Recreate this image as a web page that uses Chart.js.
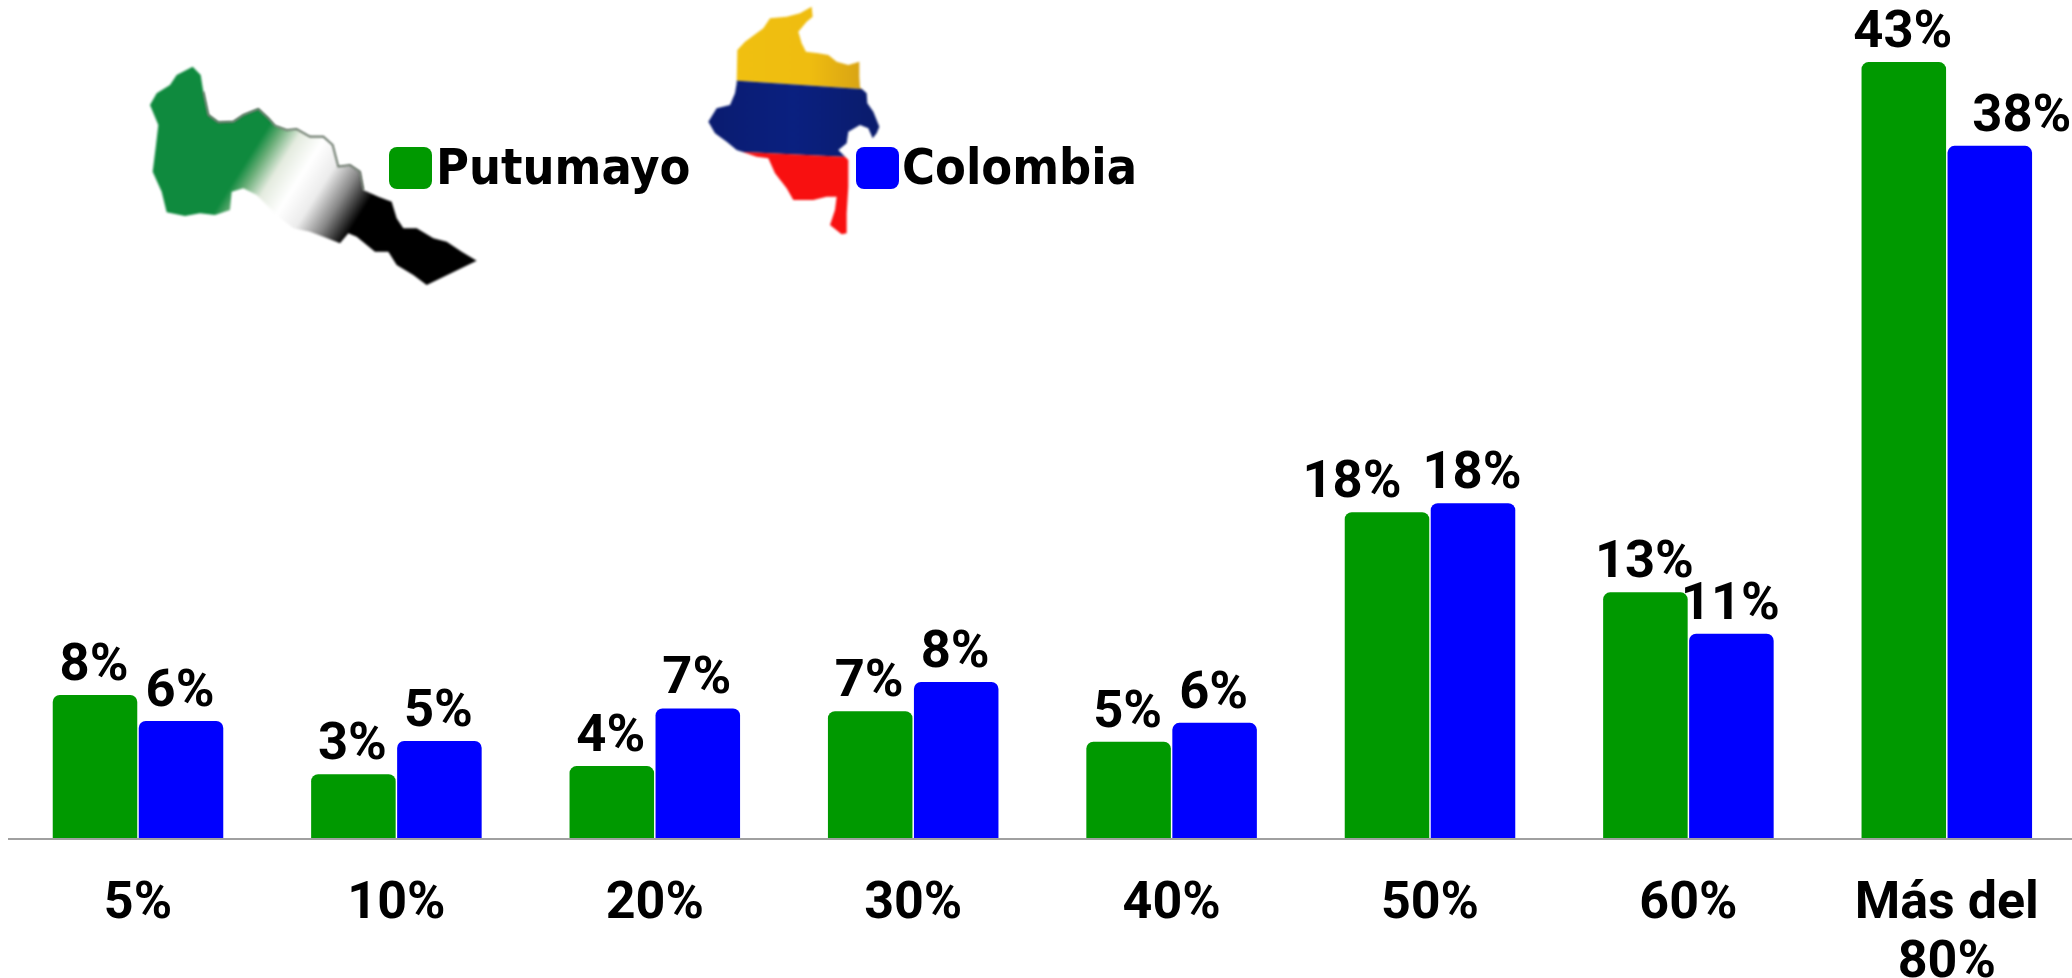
<!DOCTYPE html>
<html><head><meta charset="utf-8">
<style>html,body{margin:0;padding:0;background:#fff;overflow:hidden;width:2072px;height:978px}canvas{display:block}</style>
<script src="https://cdn.jsdelivr.net/npm/chart.js@4"></script>
</head><body><canvas id="c" width="2080" height="978"></canvas>
<script>
const categories=['5%','10%','20%','30%','40%','50%','60%',['Más del','80%']];
const putumayo=[8.0,3.6,4.05,7.1,5.4,18.15,13.7,43.15];
const colombia=[6.55,5.45,7.25,8.72,6.45,18.65,11.4,38.5];
const putumayoLabels=['8%','3%','4%','7%','5%','18%','13%','43%'];
const colombiaLabels=['6%','5%','7%','8%','6%','18%','11%','38%'];
const labelFont='bold 52.5px Roboto';
const legendFont='bold 50px "DejaVu Sans Condensed"';

// decorative map outlines, in 3x crop units
const mapPutumayo=[[158,35],[182,60],[190,110],[205,180],[235,202],[280,200],[310,180],[355,162],[385,190],[405,212],[440,225],[470,222],[510,245],[550,245],[578,270],[595,335],[630,330],[660,350],[670,405],[715,425],[755,440],[770,490],[790,520],[830,520],[880,550],[920,560],[965,590],[1010,617],[860,690],[820,660],[770,630],[745,590],[705,590],[650,545],[625,535],[600,565],[550,545],[510,530],[460,520],[410,480],[350,420],[310,400],[275,410],[270,465],[225,480],[180,475],[135,483],[80,472],[65,410],[38,350],[48,270],[55,210],[30,150],[50,115],[90,90],[110,60]];
const mapColombia=[[335,20],[338,50],[320,65],[295,95],[305,130],[318,155],[355,160],[385,165],[410,185],[445,195],[478,185],[478,230],[480,262],[500,280],[502,310],[520,335],[538,380],[530,400],[518,415],[505,385],[480,375],[445,395],[440,430],[415,450],[445,480],[445,560],[440,640],[440,700],[425,703],[390,675],[405,630],[410,590],[380,590],[340,600],[280,600],[260,565],[225,520],[205,475],[170,470],[110,450],[80,425],[45,400],[25,365],[50,325],[90,315],[105,280],[110,250],[112,150],[135,125],[190,85],[210,55],[260,50],[300,40]];
const PX=x=>140+x/3, PY=y=>55+y/3, CX=x=>700+x/3, CY=y=>y/3;
function trace(ctx,pts,fx,fy,close){ctx.beginPath();pts.forEach((p,i)=>{i?ctx.lineTo(fx(p[0]),fy(p[1])):ctx.moveTo(fx(p[0]),fy(p[1]));});if(close)ctx.closePath();}

const mapsPlugin={id:'maps',beforeDatasetsDraw(chart){
  const ctx=chart.ctx;
  ctx.save();
  ctx.filter='blur(1px)';
  const g=ctx.createLinearGradient(PX(330),PY(300),PX(657),PY(507));
  [[0,'#0f8a3e'],[0.1,'#6aae78'],[0.24,'#e4ebdf'],[0.42,'#ffffff'],[0.6,'#ececec'],[0.78,'#888888'],[0.97,'#000000'],[1,'#000000']].forEach(s=>g.addColorStop(s[0],s[1]));
  trace(ctx,mapPutumayo,PX,PY,true);ctx.fillStyle=g;ctx.fill();
  trace(ctx,mapPutumayo.slice(2,19),PX,PY,false);
  ctx.strokeStyle='#4a5a4a';ctx.lineWidth=1.6;ctx.stroke();
  ctx.restore();

  ctx.save();
  ctx.filter='blur(0.8px)';
  const off=document.createElement('canvas');off.width=chart.width;off.height=chart.height;
  const o=off.getContext('2d');
  trace(o,mapColombia,CX,CY,true);o.clip();
  const band=(col,a,b,c,d)=>{o.fillStyle=col;o.beginPath();o.moveTo(CX(0),CY(a));o.lineTo(CX(600),CY(b));o.lineTo(CX(600),CY(c));o.lineTo(CX(0),CY(d));o.closePath();o.fill();};
  const y=o.createLinearGradient(CX(100),0,CX(480),0);y.addColorStop(0,'#f0c010');y.addColorStop(0.6,'#efbd10');y.addColorStop(1,'#d9a414');
  const b=o.createLinearGradient(CX(30),0,CX(530),0);b.addColorStop(0,'#0a1c70');b.addColorStop(0.5,'#0a2080');b.addColorStop(1,'#0a1c6c');
  band(y,0,0,275,235);
  band(b,235,275,478,450);
  band('#f81010',450,478,720,720);
  ctx.drawImage(off,0,0);
  ctx.restore();
}};

const labelsPlugin={id:'valueLabels',afterDatasetsDraw(chart){
  const ctx=chart.ctx;
  ctx.save();ctx.fillStyle='#000';ctx.font=labelFont;ctx.textAlign='center';ctx.textBaseline='alphabetic';
  [putumayoLabels,colombiaLabels].forEach((labs,d)=>{
    chart.getDatasetMeta(d).data.forEach((bar,i)=>{
      let dx=0;
      if(d===0&&i===5)dx=-34;
      if(d===1&&i===7)dx=33;
      ctx.fillText(labs[i],bar.x+dx-1,bar.y-15);
    });
  });
  ctx.restore();
}};

const legendSlots=[389,856];
const legendTextGap=[47,46];
const legendPlugin={id:'legendDraw',afterDraw(chart){
  const ctx=chart.ctx;
  ctx.save();ctx.font=legendFont;ctx.textBaseline='alphabetic';ctx.textAlign='left';
  chart.data.datasets.forEach((ds,i)=>{
    const x=legendSlots[i];
    ctx.fillStyle=ds.backgroundColor;
    ctx.beginPath();ctx.roundRect(x,147,43,42,8);ctx.fill();
    ctx.fillStyle='#000';
    ctx.fillText(ds.label,x+legendTextGap[i],184);
  });
  ctx.restore();
}};

new Chart(document.getElementById('c'),{
  type:'bar',
  data:{labels:categories,datasets:[
    {label:'Putumayo',data:putumayo,backgroundColor:'#009900',borderRadius:{topLeft:7,topRight:7}},
    {label:'Colombia',data:colombia,backgroundColor:'#0000ff',borderRadius:{topLeft:7,topRight:7}}
  ]},
  plugins:[mapsPlugin,labelsPlugin,legendPlugin],
  options:{
    responsive:false,animation:false,
    layout:{padding:{left:8.8,right:4,top:0,bottom:0}},
    datasets:{bar:{categoryPercentage:0.6656,barPercentage:0.983}},
    plugins:{tooltip:{enabled:false},title:{display:false},legend:{display:false}},
    scales:{
      x:{grid:{display:false,drawTicks:false},border:{display:true,color:'#a0a0a0',width:2,z:1},
        afterFit(s){s.height=139;},
        ticks:{autoSkip:false,maxRotation:0,minRotation:0,padding:36,color:'#000',
          font:{family:'Roboto',weight:'bold',size:52,lineHeight:1.135}}},
      y:{display:false,min:0,max:46.6}
    }
  }
});
</script></body></html>
